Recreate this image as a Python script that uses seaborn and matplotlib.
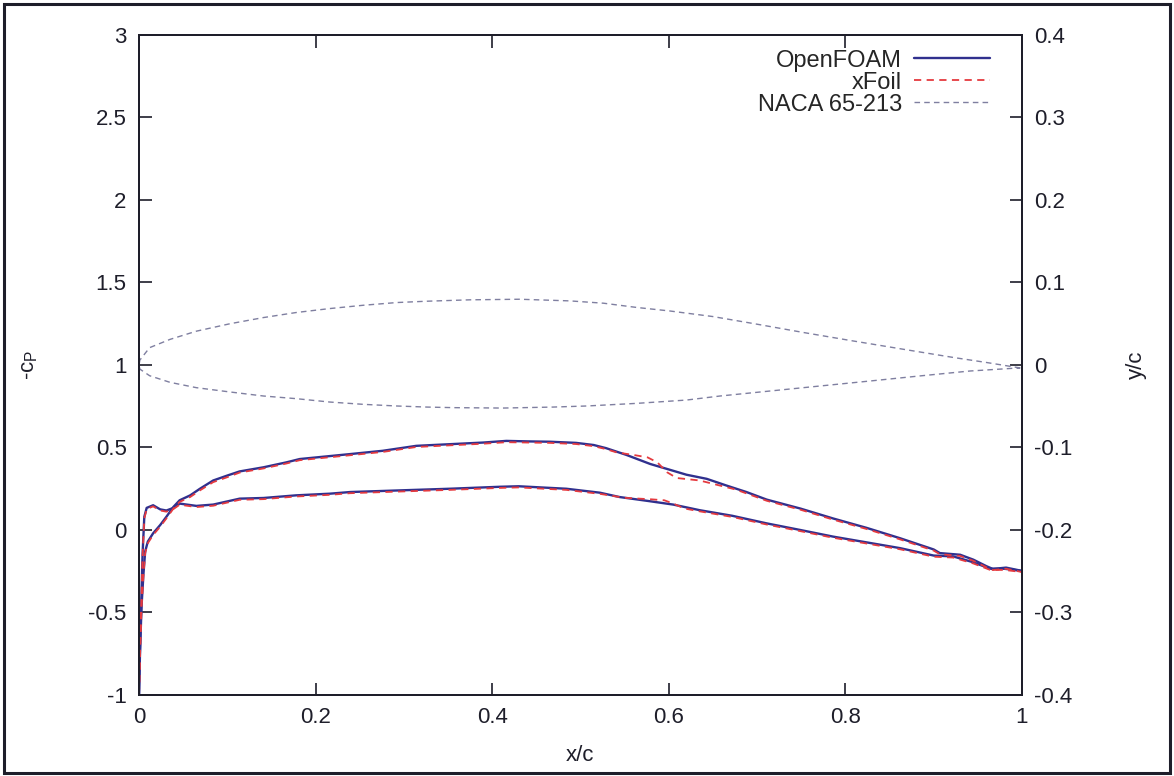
import matplotlib
matplotlib.use("Agg")
import matplotlib.pyplot as plt
from matplotlib.lines import Line2D
from matplotlib.patches import Rectangle
from matplotlib.ticker import FormatStrFormatter
import seaborn as sns
import pandas as pd

# ---- pressure distribution: suction-side branch (upper curve) ----
of_upper_x = [0.0, 0.001, 0.003, 0.005, 0.007, 0.010, 0.016, 0.024, 0.031, 0.039,
              0.046, 0.058, 0.069, 0.084, 0.100, 0.114, 0.141, 0.167, 0.182, 0.201,
              0.239, 0.276, 0.314, 0.352, 0.390, 0.416, 0.440, 0.465, 0.495, 0.515,
              0.529, 0.552, 0.579, 0.598, 0.620, 0.643, 0.665, 0.688, 0.711, 0.749,
              0.786, 0.824, 0.862, 0.900, 0.907, 0.930, 0.945, 0.960, 0.967, 0.982, 1.0]
of_upper_cp = [-1.0, -0.75, -0.45, -0.27, -0.13, -0.07, -0.02, 0.03, 0.08, 0.14,
               0.18, 0.21, 0.25, 0.30, 0.33, 0.355, 0.38, 0.41, 0.43, 0.44,
               0.46, 0.48, 0.51, 0.52, 0.53, 0.54, 0.537, 0.535, 0.528, 0.515,
               0.496, 0.455, 0.40, 0.37, 0.335, 0.31, 0.27, 0.23, 0.184, 0.13,
               0.07, 0.013, -0.05, -0.118, -0.14, -0.15, -0.18, -0.22, -0.236, -0.228, -0.248]

# ---- pressure distribution: pressure-side branch (lower curve) ----
of_lower_x = [0.0, 0.002, 0.004, 0.006, 0.0087, 0.016, 0.024, 0.031, 0.039, 0.046,
              0.065, 0.084, 0.114, 0.141, 0.178, 0.216, 0.239, 0.295, 0.352, 0.409,
              0.430, 0.484, 0.522, 0.544, 0.579, 0.605, 0.635, 0.672, 0.711, 0.749,
              0.786, 0.824, 0.862, 0.900, 0.922, 0.945, 0.964, 0.980, 1.0]
of_lower_cp = [-1.0, -0.55, -0.15, 0.08, 0.134, 0.150, 0.125, 0.118, 0.134, 0.16,
               0.146, 0.154, 0.19, 0.194, 0.21, 0.22, 0.23, 0.24, 0.25, 0.262,
               0.265, 0.25, 0.226, 0.20, 0.174, 0.154, 0.12, 0.086, 0.04, 0.0,
               -0.04, -0.075, -0.11, -0.155, -0.16, -0.196, -0.235, -0.235, -0.248]

# ---- xFoil solution ----
xf_upper_x = [0.0, 0.001, 0.003, 0.005, 0.007, 0.010, 0.016, 0.024, 0.031, 0.039,
              0.046, 0.058, 0.069, 0.084, 0.100, 0.114, 0.141, 0.167, 0.182, 0.201,
              0.239, 0.276, 0.314, 0.352, 0.390, 0.416, 0.440, 0.465, 0.495, 0.515,
              0.529, 0.541, 0.560, 0.576, 0.587, 0.598, 0.609, 0.635, 0.676, 0.711,
              0.749, 0.786, 0.824, 0.862, 0.900, 0.907, 0.930, 0.945, 0.960, 0.967,
              0.982, 1.0]
xf_upper_cp = [-1.0, -0.76, -0.46, -0.28, -0.14, -0.08, -0.03, 0.02, 0.07, 0.13,
               0.17, 0.20, 0.24, 0.29, 0.32, 0.348, 0.373, 0.403, 0.423, 0.433,
               0.453, 0.473, 0.503, 0.513, 0.523, 0.532, 0.530, 0.528, 0.521, 0.508,
               0.49, 0.47, 0.455, 0.44, 0.41, 0.35, 0.315, 0.30, 0.245, 0.177,
               0.123, 0.063, 0.006, -0.057, -0.125, -0.147, -0.157, -0.187, -0.227, -0.243,
               -0.235, -0.255]

xf_lower_x = [0.0, 0.002, 0.004, 0.006, 0.0087, 0.016, 0.024, 0.031, 0.039, 0.046,
              0.065, 0.084, 0.114, 0.141, 0.178, 0.216, 0.239, 0.295, 0.352, 0.409,
              0.430, 0.484, 0.522, 0.550, 0.580, 0.595, 0.605, 0.618, 0.635, 0.672,
              0.711, 0.749, 0.786, 0.824, 0.862, 0.900, 0.922, 0.945, 0.964, 0.980, 1.0]
xf_lower_cp = [-1.0, -0.56, -0.16, 0.07, 0.127, 0.143, 0.118, 0.111, 0.127, 0.153,
               0.139, 0.147, 0.183, 0.187, 0.203, 0.213, 0.223, 0.233, 0.243, 0.255,
               0.258, 0.243, 0.219, 0.195, 0.186, 0.18, 0.16, 0.13, 0.113, 0.079,
               0.033, -0.007, -0.047, -0.082, -0.117, -0.162, -0.167, -0.203, -0.242, -0.242, -0.255]

# ---- NACA 65-213 section coordinates (y/c) ----
foil_upper_x = [0.0, 0.001, 0.012, 0.035, 0.065, 0.103, 0.141, 0.178, 0.216, 0.254,
                0.292, 0.326, 0.375, 0.431, 0.488, 0.526, 0.564, 0.601, 0.650, 0.696,
                0.753, 0.809, 0.866, 0.923, 0.960, 0.998]
foil_upper_y = [0.0, 0.006, 0.021, 0.031, 0.041, 0.050, 0.0575, 0.0636, 0.0684, 0.0724,
                0.0757, 0.0773, 0.079, 0.0797, 0.0777, 0.0749, 0.0697, 0.0655, 0.0587, 0.0502,
                0.0393, 0.0291, 0.019, 0.009, 0.003, -0.0036]
foil_lower_x = [0.0, 0.001, 0.012, 0.035, 0.065, 0.103, 0.141, 0.178, 0.216, 0.254,
                0.292, 0.326, 0.356, 0.412, 0.469, 0.507, 0.564, 0.620, 0.658, 0.715,
                0.771, 0.828, 0.884, 0.941, 0.990, 0.998]
foil_lower_y = [0.0, -0.005, -0.013, -0.021, -0.0275, -0.0327, -0.0376, -0.0408, -0.0449, -0.0477,
                -0.0497, -0.051, -0.0517, -0.0522, -0.051, -0.0497, -0.0465, -0.0425, -0.0376, -0.0315,
                -0.0255, -0.0194, -0.0133, -0.0073, -0.004, -0.0036]

cp_ticks = [-1, -0.5, 0, 0.5, 1, 1.5, 2, 2.5, 3]
yc_ticks = [-0.4, -0.3, -0.2, -0.1, 0, 0.1, 0.2, 0.3, 0.4]
xc_ticks = [0, 0.2, 0.4, 0.6, 0.8, 1]

# ---- styling ----
sns.set_style("ticks")
plt.rcParams["font.family"] = ["Liberation Sans", "DejaVu Sans"]
plt.rcParams["mathtext.default"] = "regular"

of_color = "#30308e"
xf_color = "#e53a3f"
foil_color = "#7f7fa0"
ink = "#1e1e2a"
fs = 16
legend_fs = 17

fig = plt.figure(figsize=(11.74, 7.76), dpi=100)
ax = fig.add_axes([0.1184, 0.1044, 0.7521, 0.8505])
ax2 = ax.twinx()

# closed outline of the section: upper surface TE->LE, then lower LE->TE
foil = pd.DataFrame({
    "x": foil_upper_x[::-1] + foil_lower_x[1:],
    "y": foil_upper_y[::-1] + foil_lower_y[1:],
})
sns.lineplot(data=foil, x="x", y="y", ax=ax2, sort=False, estimator=None,
             color=foil_color, lw=1.0, dashes=False, linestyle=(0, (4, 3)))

for xs, ys in [(of_upper_x, of_upper_cp), (of_lower_x, of_lower_cp)]:
    sns.lineplot(x=xs, y=ys, ax=ax, sort=False, estimator=None,
                 color=of_color, lw=1.7)
for xs, ys in [(xf_upper_x, xf_upper_cp), (xf_lower_x, xf_lower_cp)]:
    sns.lineplot(x=xs, y=ys, ax=ax, sort=False, estimator=None,
                 color=xf_color, lw=1.3, linestyle=(0, (4, 3)))

ax.set_xlim(0, 1)
ax.set_ylim(-1, 3)
ax2.set_ylim(-0.4, 0.4)
ax.set_xticks(xc_ticks)
ax.set_yticks(cp_ticks)
ax2.set_yticks(yc_ticks)
for a in (ax.xaxis, ax.yaxis, ax2.yaxis):
    a.set_major_formatter(FormatStrFormatter("%g"))

ax.tick_params(axis="x", which="both", direction="in", length=9, width=1.2,
               top=True, bottom=True, labelsize=fs, pad=9, colors=ink)
ax.tick_params(axis="y", direction="in", length=9, width=1.2, left=True,
               right=False, labelsize=fs, pad=9, colors=ink)
ax2.tick_params(axis="y", direction="in", length=9, width=1.2, right=True,
                left=False, labelsize=fs, pad=9, colors=ink)

for a in (ax, ax2):
    for s in a.spines.values():
        s.set_visible(True)
        s.set_color(ink)
        s.set_linewidth(1.4)

ax.set_xlabel("x/c", fontsize=fs, color=ink, labelpad=12)
ax.set_ylabel("-c$_P$", fontsize=fs, color=ink, labelpad=35)
ax2.set_ylabel("y/c", fontsize=fs, color=ink, labelpad=38)

handles = [
    Line2D([], [], color=of_color, lw=1.7),
    Line2D([], [], color=xf_color, lw=1.3, linestyle=(0, (4, 3))),
    Line2D([], [], color=foil_color, lw=1.0, linestyle=(0, (4, 3))),
]
ax2.legend(handles, ["OpenFOAM", "xFoil", "NACA 65-213"], loc="upper right",
           bbox_to_anchor=(0.982, 1.003), frameon=False, fontsize=legend_fs,
           markerfirst=False, handlelength=3.2, handletextpad=0.5,
           labelspacing=0.0, borderpad=0.2)

# outer border around the whole figure
fig.patches.append(Rectangle((0.003, 0.004), 0.994, 0.991, transform=fig.transFigure,
                             fill=False, edgecolor=ink, lw=2.2))

fig.savefig("out.png", dpi=100)
